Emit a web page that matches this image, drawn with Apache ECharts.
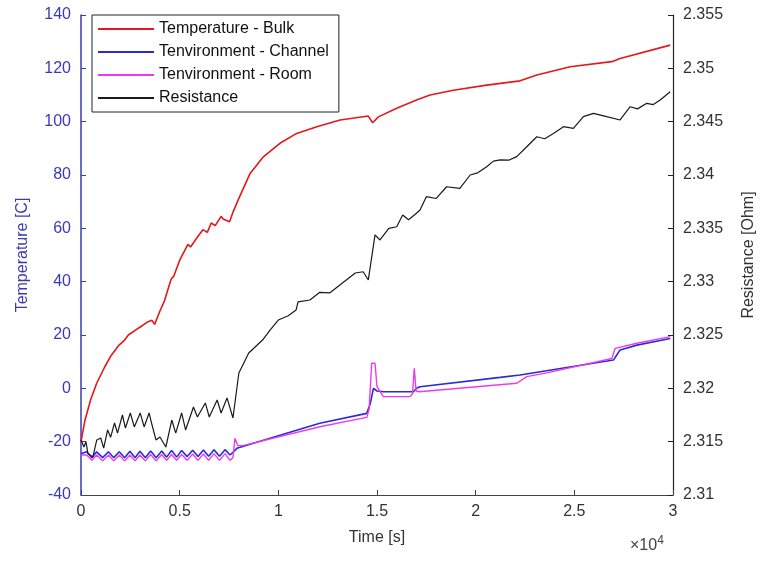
<!DOCTYPE html>
<html>
<head>
<meta charset="utf-8">
<script src="https://cdn.jsdelivr.net/npm/echarts@6/dist/echarts.min.js"></script>
<style>
  html, body { margin: 0; padding: 0; background: #fff; }
  #chart { width: 763px; height: 563px; }
</style>
</head>
<body>
<div id="chart"></div>
<script>
// time in units of 1e4 s
const bulkTime = [0, 0.02, 0.05, 0.08, 0.12, 0.15, 0.17, 0.19, 0.22, 0.24, 0.28, 0.30, 0.34, 0.36, 0.373, 0.40, 0.424, 0.44, 0.457, 0.47, 0.50, 0.51, 0.542, 0.555, 0.593, 0.60, 0.618, 0.64, 0.66, 0.68, 0.71, 0.72, 0.753, 0.77, 0.796, 0.857, 0.924, 1.008, 1.093, 1.195, 1.313, 1.456, 1.478, 1.507, 1.6, 1.7, 1.769, 1.887, 2.056, 2.225, 2.31, 2.479, 2.69, 2.732, 2.986];
const bulkTemp = [-20, -12, -4, 2, 8, 12, 14, 16, 18, 20, 22, 23, 25, 25.5, 24, 29, 33, 37, 41, 42, 48, 49.5, 54, 53, 57, 56.5, 59.5, 58.5, 62, 61, 64.5, 63.5, 62.5, 66, 70.6, 80.6, 86.8, 91.9, 95.6, 98.1, 100.6, 102.1, 99.6, 101.8, 105, 108.1, 110, 111.8, 113.7, 115.3, 117.5, 120.6, 122.5, 123.7, 128.7];

const channelTime = [0, 0.029, 0.055, 0.079, 0.11, 0.139, 0.166, 0.194, 0.221, 0.248, 0.274, 0.299, 0.326, 0.353, 0.381, 0.409, 0.434, 0.459, 0.485, 0.51, 0.538, 0.566, 0.593, 0.62, 0.647, 0.674, 0.702, 0.73, 0.755, 0.77, 0.79, 0.80, 1.21, 1.448, 1.465, 1.482, 1.50, 1.532, 1.685, 1.70, 1.718, 2.124, 2.225, 2.698, 2.715, 2.732, 2.817, 2.986];
const channelTemp = [-24.5, -23.8, -26, -23.8, -26, -23.8, -26, -23.8, -26, -23.6, -26, -23.6, -26, -23.5, -26, -23.5, -25.8, -23.3, -25.8, -23.3, -25.6, -23.2, -25.6, -23.1, -25.5, -23, -25.5, -23, -25, -24, -22.5, -22, -13.1, -9.4, -6, 0, -1, -1.3, -1.3, 0, 0.6, 4.1, 5, 10.6, 12.5, 14.4, 16.2, 18.7];

const roomTime = [0, 0.029, 0.055, 0.079, 0.11, 0.139, 0.166, 0.194, 0.221, 0.248, 0.274, 0.299, 0.326, 0.353, 0.381, 0.409, 0.434, 0.459, 0.485, 0.51, 0.538, 0.566, 0.593, 0.62, 0.647, 0.674, 0.702, 0.73, 0.755, 0.77, 0.78, 0.795, 0.82, 1.21, 1.448, 1.46, 1.473, 1.49, 1.50, 1.532, 1.667, 1.68, 1.689, 1.698, 1.715, 2.208, 2.259, 2.36, 2.69, 2.707, 2.817, 2.986];
const roomTemp = [-25, -25, -27, -25, -27.2, -25, -27.2, -25, -27.2, -25, -27.2, -25, -27.2, -24.8, -27.2, -24.8, -27, -24.8, -27, -24.8, -27, -24.6, -27, -24.6, -27, -24.5, -27, -24.5, -27, -26, -18.7, -21.5, -21.5, -14.4, -10.9, -8, 9.4, 9.4, 0.6, -3.1, -3.1, -2, 7.5, -1, -1.3, 1.9, 4.4, 5.8, 11.2, 15, 16.9, 19.4];

const resTime = [0, 0.015, 0.025, 0.035, 0.06, 0.08, 0.10, 0.115, 0.135, 0.15, 0.17, 0.185, 0.21, 0.225, 0.25, 0.27, 0.30, 0.32, 0.345, 0.36, 0.38, 0.40, 0.43, 0.46, 0.48, 0.51, 0.53, 0.57, 0.59, 0.63, 0.65, 0.69, 0.71, 0.74, 0.77, 0.80, 0.85, 0.92, 0.96, 1.0, 1.05, 1.09, 1.10, 1.16, 1.21, 1.26, 1.32, 1.39, 1.43, 1.456, 1.49, 1.515, 1.56, 1.6, 1.63, 1.66, 1.70, 1.718, 1.75, 1.80, 1.853, 1.92, 1.972, 2.01, 2.056, 2.09, 2.124, 2.17, 2.208, 2.259, 2.31, 2.35, 2.394, 2.445, 2.495, 2.546, 2.597, 2.664, 2.732, 2.783, 2.82, 2.867, 2.90, 2.935, 2.986];
const resOhm = [2.31516, 2.3145, 2.3150, 2.3139, 2.31356, 2.31516, 2.31534, 2.3144, 2.3161, 2.3154, 2.31675, 2.3158, 2.3175, 2.31628, 2.31769, 2.31638, 2.31769, 2.31638, 2.31769, 2.31656, 2.31516, 2.31544, 2.3145, 2.31703, 2.3158, 2.31769, 2.3161, 2.31825, 2.31731, 2.31863, 2.31731, 2.31891, 2.31769, 2.3191, 2.31722, 2.32144, 2.32331, 2.32453, 2.3255, 2.3264, 2.3268, 2.32734, 2.3281, 2.32828, 2.3290, 2.32894, 2.3298, 2.33081, 2.33093, 2.33016, 2.33438, 2.33391, 2.3350, 2.33515, 2.33625, 2.3358, 2.33641, 2.33672, 2.33797, 2.3378, 2.3389, 2.33875, 2.3400, 2.3402, 2.34078, 2.3413, 2.34141, 2.3414, 2.34172, 2.34265, 2.34359, 2.3434, 2.3439, 2.34453, 2.34437, 2.34547, 2.34578, 2.34547, 2.34516, 2.3464, 2.3462, 2.34672, 2.3466, 2.34703, 2.34781];

function zip(xs, ys) {
  return xs.map((x, i) => [x, ys[i]]);
}

const chart = echarts.init(document.getElementById('chart'));

const font = 'Liberation Sans, Arial, sans-serif';
const blueAxis = '#3a3ab8';

chart.setOption({
  animation: false,
  textStyle: { fontFamily: font },
  grid: { left: 81, right: 90, top: 15, bottom: 68, outerBoundsMode: 'none' },
  legend: {
    orient: 'vertical',
    left: 92,
    top: 15,
    padding: [6, 10, 6, 6],
    itemGap: 7,
    itemWidth: 56,
    itemHeight: 2,
    icon: 'rect',
    borderColor: '#222',
    borderWidth: 1,
    textStyle: { fontSize: 16, color: '#111', fontFamily: font },
    data: ['Temperature - Bulk', 'Tenvironment - Channel', 'Tenvironment - Room', 'Resistance']
  },
  xAxis: {
    type: 'value',
    min: 0,
    max: 3,
    interval: 0.5,
    name: 'Time [s]',
    nameLocation: 'middle',
    nameGap: 35,
    nameTextStyle: { fontSize: 16, color: '#333' },
    axisLine: { onZero: false, lineStyle: { color: '#444', width: 1 } },
    axisTick: { inside: true, length: 5, lineStyle: { color: '#444' } },
    axisLabel: { fontSize: 16, color: '#333', margin: 9, formatter: v => String(v) },
    splitLine: { show: false }
  },
  yAxis: [
    {
      type: 'value',
      position: 'left',
      min: -40,
      max: 140,
      interval: 20,
      name: 'Temperature [C]',
      nameLocation: 'middle',
      nameGap: 50,
      nameRotate: 90,
      nameTextStyle: { fontSize: 16, color: blueAxis },
      axisLine: { show: true, lineStyle: { color: blueAxis, width: 1.5 } },
      axisTick: { show: true, inside: true, length: 5, lineStyle: { color: blueAxis } },
      axisLabel: { fontSize: 16, color: blueAxis, margin: 10 },
      splitLine: { show: false }
    },
    {
      type: 'value',
      position: 'right',
      min: 2.31,
      max: 2.355,
      interval: 0.005,
      name: 'Resistance [Ohm]',
      nameLocation: 'middle',
      nameGap: 68,
      nameRotate: 90,
      nameTextStyle: { fontSize: 16, color: '#333' },
      axisLine: { show: true, lineStyle: { color: '#222', width: 1.2 } },
      axisTick: { show: true, inside: true, length: 5, lineStyle: { color: '#222' } },
      axisLabel: { fontSize: 16, color: '#333', margin: 10, formatter: v => String(+v.toFixed(3)) },
      splitLine: { show: false }
    }
  ],
  graphic: [
    {
      type: 'text',
      left: 630,
      top: 535,
      style: {
        text: '×10{s|4}',
        fontSize: 16,
        fill: '#444',
        fontFamily: font,
        rich: { s: { fontSize: 12, verticalAlign: 'top', padding: [0, 0, 10, 0], fill: '#444' } }
      }
    }
  ],
  series: [
    {
      name: 'Temperature - Bulk',
      type: 'line',
      yAxisIndex: 0,
      symbol: 'none',
      lineStyle: { color: '#e4181c', width: 1.6 },
      itemStyle: { color: '#e4181c' },
      data: zip(bulkTime, bulkTemp)
    },
    {
      name: 'Tenvironment - Channel',
      type: 'line',
      yAxisIndex: 0,
      symbol: 'none',
      lineStyle: { color: '#2b2bd6', width: 1.6 },
      itemStyle: { color: '#2b2bd6' },
      data: zip(channelTime, channelTemp)
    },
    {
      name: 'Tenvironment - Room',
      type: 'line',
      yAxisIndex: 0,
      symbol: 'none',
      lineStyle: { color: '#ee3aee', width: 1.4 },
      itemStyle: { color: '#ee3aee' },
      data: zip(roomTime, roomTemp)
    },
    {
      name: 'Resistance',
      type: 'line',
      yAxisIndex: 1,
      symbol: 'none',
      lineStyle: { color: '#1a1a1a', width: 1.2 },
      itemStyle: { color: '#1a1a1a' },
      data: zip(resTime, resOhm)
    }
  ]
});

window.addEventListener('resize', () => chart.resize());
</script>
</body>
</html>
